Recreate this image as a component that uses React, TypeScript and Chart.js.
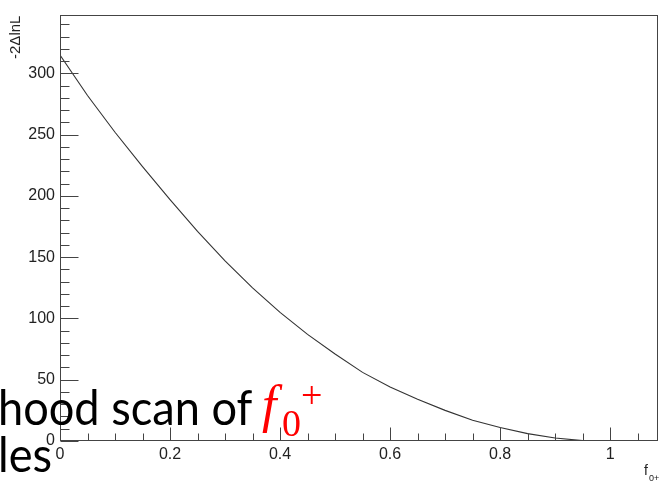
import { useEffect, useRef } from "react";
import { Chart, registerables } from "chart.js";

Chart.register(...registerables);

// Likelihood scan: -2ΔlnL as a function of the fraction f0+
const fValues = [0, 0.05, 0.1, 0.15, 0.2, 0.25, 0.3, 0.35, 0.4, 0.45, 0.5, 0.55, 0.6, 0.65, 0.7, 0.75, 0.8, 0.85, 0.9, 0.95];
const nllValues = [315, 282, 252, 224, 197, 171, 147, 125, 105, 87, 71, 56, 44, 34, 25, 17, 11, 6, 2.5, 0.3];

const xRange = [0, 1.087];
const yRange = [0, 348];
const xMajorTicks = [0, 0.2, 0.4, 0.6, 0.8, 1];
const xMinorTicks = [0.05, 0.1, 0.15, 0.25, 0.3, 0.35, 0.45, 0.5, 0.55, 0.65, 0.7, 0.75, 0.85, 0.9, 0.95, 1.05];
const yMajorTicks = [0, 50, 100, 150, 200, 250, 300];
const yMinorTicks = [10, 20, 30, 40, 60, 70, 80, 90, 110, 120, 130, 140, 160, 170, 180, 190, 210, 220, 230, 240, 260, 270, 280, 290, 310, 320, 330, 340];

const yTitle = "-2\u0394lnL";
const xTitle = "f";
const xTitleSub = "0+";
const captionLine1 = "hood scan of";
const captionSymbol = "f";
const captionSub = "0";
const captionSup = "+";
const captionLine2 = "les";

const LABEL_FONT = "'Liberation Sans', Arial, Helvetica, sans-serif";

// ROOT-style frame with inward ticks, axis titles and the slide caption overlay
const framePlugin = {
  id: "rootFrame",
  afterDraw(chart: any) {
    const { ctx, chartArea: a, scales } = chart;
    const xs = scales.x;
    const ys = scales.y;
    const L = Math.round(a.left) + 0.5;
    const R = Math.round(a.right) - 0.5;
    const T = Math.round(a.top) + 0.5;
    const B = Math.round(a.bottom) - 0.5;
    ctx.save();
    ctx.strokeStyle = "#444";
    ctx.lineWidth = 1;
    ctx.strokeRect(L, T, R - L, B - T);

    ctx.beginPath();
    for (const v of yMajorTicks) {
      const p = Math.round(ys.getPixelForValue(v)) + 0.5;
      ctx.moveTo(L, p);
      ctx.lineTo(L + 18, p);
    }
    for (const v of yMinorTicks) {
      const p = Math.round(ys.getPixelForValue(v)) + 0.5;
      ctx.moveTo(L, p);
      ctx.lineTo(L + 9, p);
    }
    for (const v of xMajorTicks) {
      const p = Math.round(xs.getPixelForValue(v)) + 0.5;
      ctx.moveTo(p, B);
      ctx.lineTo(p, B - 13);
    }
    for (const v of xMinorTicks) {
      const p = Math.round(xs.getPixelForValue(v)) + 0.5;
      ctx.moveTo(p, B);
      ctx.lineTo(p, B - 7);
    }
    ctx.stroke();

    // axis titles
    ctx.fillStyle = "#222";
    ctx.save();
    ctx.translate(16, a.top + 1);
    ctx.rotate(-Math.PI / 2);
    ctx.font = `15px ${LABEL_FONT}`;
    ctx.textAlign = "right";
    ctx.textBaseline = "middle";
    ctx.fillText(yTitle, 0, 0);
    ctx.restore();

    ctx.textBaseline = "alphabetic";
    ctx.textAlign = "left";
    ctx.font = `14px ${LABEL_FONT}`;
    ctx.fillText(xTitle, 644, 475);
    ctx.font = `9px ${LABEL_FONT}`;
    ctx.fillText(xTitleSub, 649, 481);

    // caption text lying over the lower-left corner
    ctx.fillStyle = "#000";
    ctx.font = `48px Lato, 'Open Sans', sans-serif`;
    ctx.save();
    ctx.translate(-2, 0);
    ctx.scale(0.94, 1);
    ctx.fillText(captionLine1, 0, 425);
    ctx.fillText(captionLine2, 0, 472);
    ctx.restore();
    ctx.fillStyle = "#ff0000";
    ctx.font = `italic 52px 'Liberation Serif', 'DejaVu Serif', serif`;
    ctx.fillText(captionSymbol, 262, 422);
    ctx.font = `38px 'Liberation Serif', 'DejaVu Serif', serif`;
    ctx.fillText(captionSub, 282, 436);
    ctx.fillText(captionSup, 301, 408);
    ctx.restore();
  },
};

export default function App() {
  const canvasRef = useRef<HTMLCanvasElement | null>(null);

  useEffect(() => {
    const canvas = canvasRef.current;
    if (!canvas) return;
    const chart = new Chart(canvas, {
      type: "scatter",
      data: {
        datasets: [
          {
            data: fValues.map((f, i) => ({ x: f, y: nllValues[i] })),
            showLine: true,
            borderColor: "#333333",
            borderWidth: 1.1,
            pointRadius: 0,
            fill: false,
            tension: 0,
          },
        ],
      },
      options: {
        animation: false,
        responsive: false,
        devicePixelRatio: 1,
        layout: { padding: { top: 11, right: 1, left: 0, bottom: 0 } },
        plugins: { legend: { display: false }, tooltip: { enabled: false } },
        scales: {
          x: {
            type: "linear",
            min: xRange[0],
            max: xRange[1],
            grid: { display: false, drawTicks: false },
            border: { display: false },
            afterFit: (s: any) => {
              s.height = 40;
            },
            afterBuildTicks: (s: any) => {
              s.ticks = xMajorTicks.map((v) => ({ value: v }));
            },
            ticks: {
              padding: 4,
              maxRotation: 0,
              autoSkip: false,
              color: "#222",
              font: { family: LABEL_FONT, size: 16 },
              callback: (v: any) => String(Number(v)),
            },
          },
          y: {
            type: "linear",
            min: yRange[0],
            max: yRange[1],
            grid: { display: false, drawTicks: false },
            border: { display: false },
            afterFit: (s: any) => {
              s.width = 60;
            },
            afterBuildTicks: (s: any) => {
              s.ticks = yMajorTicks.map((v) => ({ value: v }));
            },
            ticks: {
              padding: 5,
              autoSkip: false,
              color: "#222",
              font: { family: LABEL_FONT, size: 16 },
              callback: (v: any) => String(Number(v)),
            },
          },
        },
      },
      plugins: [framePlugin],
    });
    return () => chart.destroy();
  }, []);

  return (
    <div style={{ position: "fixed", left: 0, top: 0, width: 659, height: 481, background: "#fff" }}>
      <canvas ref={canvasRef} width={659} height={481} />
    </div>
  );
}
